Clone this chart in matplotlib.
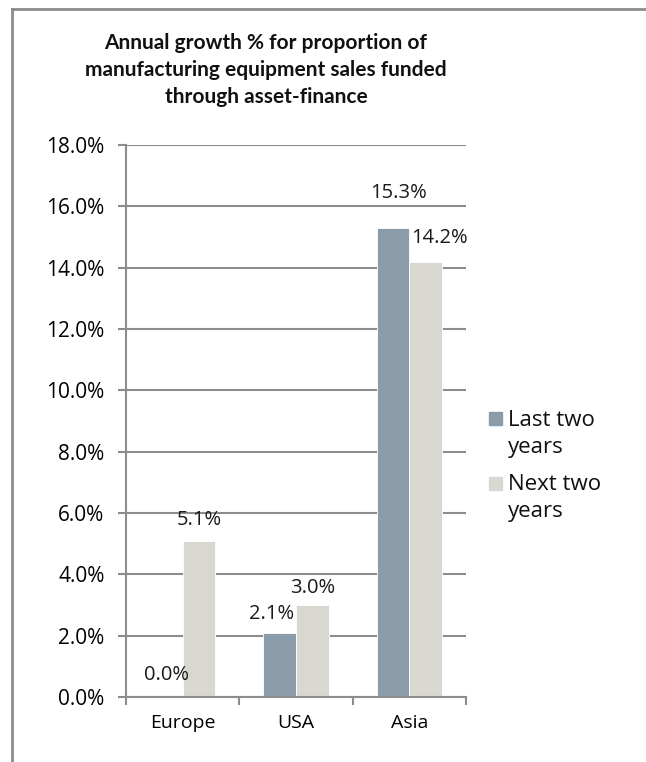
import numpy as np
import matplotlib.pyplot as plt
from matplotlib.lines import Line2D
from matplotlib.patches import Rectangle
from matplotlib.ticker import FuncFormatter

regions = ["Europe", "USA", "Asia"]
last_two = [0.0, 2.1, 15.3]
next_two = [5.1, 3.0, 14.2]
series_names = ["Last two\nyears", "Next two\nyears"]
title = "Annual growth % for proportion of\nmanufacturing equipment sales funded\nthrough asset-finance"

# label nudges in pixels (dx, dy above bar top)
last_offsets = [(0, 22), (-8, 19), (6, 35)]
next_offsets = [(0, 21), (0, 17), (14, 24)]

c_last = "#8A9BA9"
c_next = "#D8D8D0"
grey = "#8C8C8C"
W, H = 646, 762

plt.rcParams["font.family"] = ["Open Sans", "DejaVu Sans"]

fig = plt.figure(figsize=(W / 100, H / 100), dpi=100)
ax = fig.add_axes([126 / W, 65 / H, 340 / W, 552 / H])

x = np.arange(len(regions))
w = 0.288
b1 = ax.bar(x - w / 2, last_two, w, color=c_last, edgecolor="white", linewidth=0.6, zorder=3)
b2 = ax.bar(x + w / 2, next_two, w, color=c_next, edgecolor="white", linewidth=0.6, zorder=3)

for bars, vals, offs in [(b1, last_two, last_offsets), (b2, next_two, next_offsets)]:
    for bar, v, (dx, dy) in zip(bars, vals, offs):
        ax.annotate(f"{v:.1f}%", (bar.get_x() + bar.get_width() / 2, v),
                    xytext=(dx, dy), textcoords="offset pixels",
                    ha="center", va="center", fontsize=14.5, color="#1a1a1a")

ax.set_xlim(-0.5, len(regions) - 0.5)
ax.set_ylim(0, 18)
ax.set_yticks(np.arange(0, 18.1, 2))
ax.yaxis.set_major_formatter(FuncFormatter(lambda v, p: f"{v:.1f}%"))
ax.set_xticks(x)
ax.set_xticklabels(regions)
ax.set_xticks(np.arange(-0.5, len(regions), 1), minor=True)
ax.tick_params(axis="x", which="major", length=0, pad=12.5, labelsize=14)
ax.tick_params(axis="x", which="minor", length=6, width=1.5, color=grey, direction="out")
ax.tick_params(axis="y", length=6, width=1.5, color=grey, labelsize=15, pad=9.4)
ax.grid(axis="y", color=grey, linewidth=1.5, zorder=0)
for s in ["top", "right"]:
    ax.spines[s].set_visible(False)
for s in ["left", "bottom"]:
    ax.spines[s].set_color(grey)
    ax.spines[s].set_linewidth(1.5)
ax.spines["bottom"].set_zorder(4)

fig.text(266 / W, 1 - 70 / H, title, ha="center", va="center",
         family=["Lato", "DejaVu Sans"], fontsize=15, fontweight="bold",
         linespacing=1.42, color="#111111")

# legend drawn by hand so the swatch sits on the first text line
legend_colors = [c_last, c_next]
for i, (name, col) in enumerate(zip(series_names, legend_colors)):
    top = 412 + i * 65
    fig.add_artist(Rectangle((489 / W, 1 - (top + 13) / H), 13 / W, 13 / H,
                             transform=fig.transFigure, color=col))
    for j, line in enumerate(name.split("\n")):
        base = 426 + i * 64 + j * 27
        fig.text(508 / W, 1 - base / H, line, ha="left", va="baseline",
                 fontsize=16, color="#111111")

# outer chart frame
fig.add_artist(Line2D([12 / W, 12 / W], [0, 1 - 9 / H], color=grey, linewidth=2,
                      transform=fig.transFigure))
fig.add_artist(Line2D([12 / W, 1], [1 - 9 / H, 1 - 9 / H], color=grey, linewidth=2,
                      transform=fig.transFigure))

fig.savefig("out.png", dpi=100)
